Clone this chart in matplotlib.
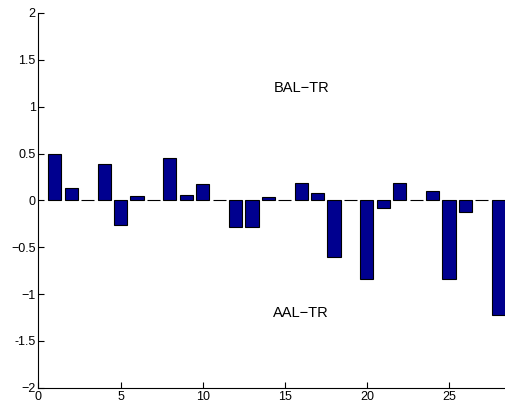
import matplotlib.pyplot as plt
import numpy as np

plt.rcParams['font.family'] = ['Liberation Sans', 'DejaVu Sans']

# bar values
index = np.arange(1, 29)
values = [0.49, 0.13, 0.0, 0.39, -0.26, 0.047, 0.0, 0.45, 0.053, 0.18,
          0.0, -0.28, -0.28, 0.04, 0.0, 0.19, 0.08, -0.60, 0.0, -0.84,
          -0.08, 0.19, 0.0, 0.10, -0.84, -0.12, 0.0, -1.22]
yticks = [-2, -1.5, -1, -0.5, 0, 0.5, 1, 1.5, 2]
ytick_labels = ['\u22122', '-1.5', '\u22121', '\u22120.5', '0', '0.5', '1', '1.5', '2']
xticks = [0, 5, 10, 15, 20, 25]

fig = plt.figure(figsize=(5.06, 4.04), dpi=100)
ax = fig.add_axes([0.076, 0.04, 0.924, 0.928])

ax.bar(index, values, width=0.8, color='#00008F', edgecolor='black', linewidth=0.8)

# labels for the two halves
ax.text(16, 1.2, 'BAL\u2212TR', ha='center', va='center', fontsize=10.5)
ax.text(16, -1.2, 'AAL\u2212TR', ha='center', va='center', fontsize=10.5)

ax.set_xlim(0, 28.47)
ax.set_ylim(-2, 2)
ax.set_xticks(xticks)
ax.set_yticks(yticks)
ax.set_yticklabels(ytick_labels)
ax.tick_params(direction='in', length=4, labelsize=9, pad=2)
ax.spines['top'].set_visible(False)
ax.spines['right'].set_visible(False)

fig.savefig('out.png', dpi=100)
